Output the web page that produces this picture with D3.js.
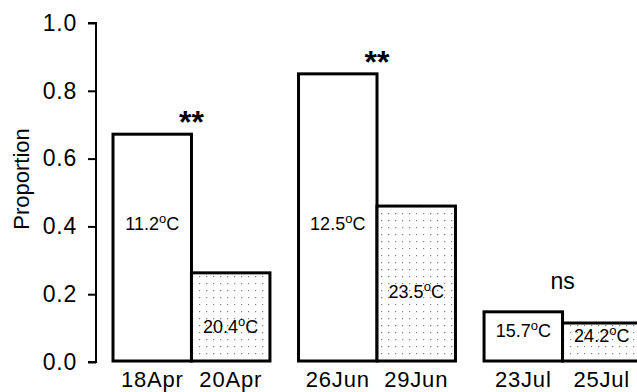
<!DOCTYPE html>
<html><head>
<meta charset="utf-8">
<title>Proportion by date</title>
<style>
  body, html {
    margin: 0;
    padding: 0;
    background: #fff;
  }
  svg text {
    font-family: "Liberation Sans", Arial, sans-serif;
    fill: #000;
  }
</style>
<script src="https://d3js.org/d3.v7.min.js"></script>
</head>
<body>
<div id="chart"></div>
<script>
// data
const groups = ["Apr", "Jun", "Jul"];
const dates = ["18Apr", "20Apr", "26Jun", "29Jun", "23Jul", "25Jul"];
const pairKey = ["cool", "warm", "cool", "warm", "cool", "warm"];
const proportion = [0.672, 0.263, 0.85, 0.46, 0.148, 0.115];
const temps = ["11.2", "20.4", "12.5", "23.5", "15.7", "24.2"];
const labelAt = [0.39, 0.085, 0.39, 0.19, 0.075, 0.058];
const signif = ["**", "**", "ns"];
const yTicks = [0, 0.2, 0.4, 0.6, 0.8, 1.0];

const width = 637;
const height = 392;

const svg = d3.select("#chart")
  .append("svg")
  .attr("width", width)
  .attr("height", height);

const y = d3.scaleLinear()
  .domain([0, 1])
  .range([362, 23]);

const x0 = d3.scaleBand()
  .domain(groups)
  .range([113, 641])
  .paddingInner(0.154)
  .paddingOuter(0);

const x1 = d3.scaleBand()
  .domain(["cool", "warm"])
  .range([0, x0.bandwidth()]);

const bars = dates.map((d, i) => ({
  date: d,
  group: groups[Math.floor(i / 2)],
  key: pairKey[i],
  value: proportion[i],
  temp: temps[i],
  at: labelAt[i]
}));

// stipple fill for the warm bars
const defs = svg.append("defs");
const pat = defs.append("pattern")
  .attr("id", "dots")
  .attr("patternUnits", "userSpaceOnUse")
  .attr("width", 7)
  .attr("height", 7);
pat.append("rect").attr("width", 7).attr("height", 7).attr("fill", "#fff");
pat.append("rect")
  .attr("x", 3).attr("y", 3)
  .attr("width", 1.2).attr("height", 1.2)
  .attr("fill", "#808080");

// y axis
const yAxis = d3.axisLeft(y)
  .tickValues(yTicks)
  .tickFormat(d3.format(".1f"))
  .tickSize(8)
  .tickPadding(11);

const ax = svg.append("g")
  .attr("transform", "translate(96,0)")
  .call(yAxis);
ax.select(".domain")
  .attr("d", `M-8,${y(1)}H0V${y(0)}H-8`)
  .attr("stroke", "#000")
  .attr("stroke-width", 2);
ax.selectAll(".tick line").attr("stroke-width", 2);
ax.selectAll(".tick text")
  .style("font-size", "23px")
  .style("letter-spacing", "0.8px");

svg.append("text")
  .attr("transform", `translate(29,${y(0.54)}) rotate(-90)`)
  .attr("text-anchor", "middle")
  .style("font-size", "22px")
  .text("Proportion");

// bars
const barG = svg.append("g");
barG.selectAll("rect")
  .data(bars)
  .join("rect")
  .attr("x", d => x0(d.group) + x1(d.key))
  .attr("y", d => y(d.value))
  .attr("width", x1.bandwidth())
  .attr("height", d => y(0) - y(d.value) - 1)
  .attr("fill", d => d.key === "warm" ? "url(#dots)" : "#fff")
  .attr("stroke", "#000")
  .attr("stroke-width", 3);

// temperature labels inside bars
const tl = svg.append("g").selectAll("text")
  .data(bars)
  .join("text")
  .attr("x", d => x0(d.group) + x1(d.key) + x1.bandwidth() / 2)
  .attr("y", d => y(d.at))
  .attr("text-anchor", "middle")
  .style("font-size", "18px");
tl.append("tspan").text(d => d.temp);
tl.append("tspan").attr("dy", -7).style("font-size", "13px").text("o");
tl.append("tspan").attr("dy", 7).text("C");

// date labels
svg.append("g").selectAll("text")
  .data(bars)
  .join("text")
  .attr("x", d => x0(d.group) + x1(d.key) + x1.bandwidth() / 2)
  .attr("y", 387)
  .attr("text-anchor", "middle")
  .style("font-size", "22px")
  .style("letter-spacing", "0.8px")
  .text(d => d.date);

// significance marks
svg.append("g").selectAll("text")
  .data(groups)
  .join("text")
  .attr("x", g => x0(g) + x0.bandwidth() / 2)
  .attr("y", (g, i) => {
    const top = d3.max(bars.filter(b => b.group === g), b => b.value);
    return y(top) - (signif[i] === "ns" ? 23 : 1);
  })
  .attr("text-anchor", "middle")
  .style("font-size", (g, i) => signif[i] === "ns" ? "23px" : "32px")
  .style("font-weight", (g, i) => signif[i] === "ns" ? "normal" : "bold")
  .text((g, i) => signif[i]);
</script>
</body></html>
